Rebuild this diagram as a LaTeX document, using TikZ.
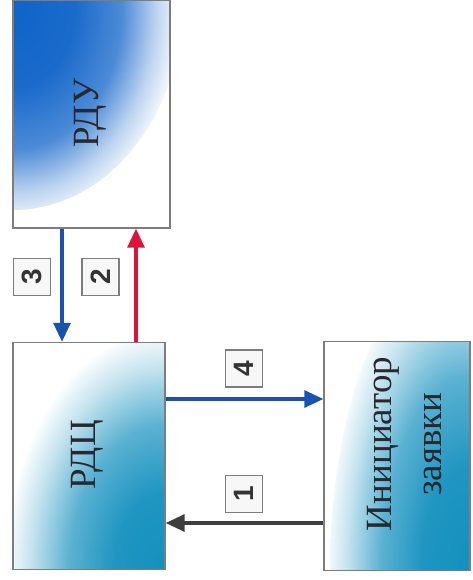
\documentclass[tikz,border=0pt]{standalone}
\usepackage{fontspec}
\setmainfont{Liberation Serif}
\newfontfamily\numfont{Liberation Sans}
\usetikzlibrary{arrows.meta}

\definecolor{rdublue}{RGB}{16,100,200}
\definecolor{rdcteal}{RGB}{20,144,190}
\definecolor{frame}{RGB}{125,125,125}
\definecolor{arrblue}{RGB}{24,84,172}
\definecolor{arrred}{RGB}{222,18,58}
\definecolor{arrgray}{RGB}{62,62,62}
\definecolor{txt}{RGB}{40,40,48}

% soft colour fields fading into white (25bp = edge of the shaded path)
\pgfdeclareradialshading{rdufade}{\pgfpoint{0bp}{0bp}}{%
  color(0bp)=(rdublue); color(9bp)=(rdublue!96!white);
  color(16bp)=(rdublue!75!white); color(21bp)=(rdublue!28!white);
  color(25bp)=(white); color(50bp)=(white)}
\pgfdeclareradialshading{tealfade}{\pgfpoint{0bp}{0bp}}{%
  color(0bp)=(rdcteal); color(8bp)=(rdcteal!95!white);
  color(15bp)=(rdcteal!70!white); color(21bp)=(rdcteal!25!white);
  color(25bp)=(white); color(50bp)=(white)}

\tikzset{
  unitbox/.style={draw=frame, line width=1.4pt, fill=white, inner sep=0pt},
  unittext/.style={rotate=90, inner sep=0pt, align=center,
    font=\fontsize{37}{50}\selectfont, text=txt},
  numbox/.style={draw=frame, line width=1.1pt, fill=black!3, inner sep=0pt,
    minimum size=37pt, font=\numfont\bfseries\fontsize{28}{28}\selectfont, text=black!80},
  flow/.style={line width=3.2pt, -{Triangle[length=19pt,width=17pt]}},
}

\begin{document}
\begin{tikzpicture}[x=1pt,y=-1pt]
\useasboundingbox (0,0) rectangle (473,580);

% main units
\node[unitbox, minimum width=157pt, minimum height=228pt,
  path picture={\shade[shading=rdufade] (path picture bounding box.north west)
    ellipse (170pt and 210pt);}]
  (rdu) at (91.5,114) {};
\node[unittext] (rdutxt) at (90,113) {РДУ};

\node[unitbox, minimum width=152pt, minimum height=227pt,
  path picture={\shade[shading=tealfade] (path picture bounding box.south east)
    ellipse (160pt and 240pt);}]
  (rdc) at (89,456) {};
\node[unittext] (rdctxt) at (87,455) {РДЦ};

\node[unitbox, minimum width=146pt, minimum height=229pt,
  path picture={\shade[shading=tealfade] (path picture bounding box.south east)
    ellipse (140pt and 320pt);}]
  (ini) at (397,456) {};
\node[unittext] (initxt) at (405,444) {Инициатор\\заявки};

% connector tracks
\coordinate (c3) at (62,0);
\coordinate (c2) at (136,0);
\coordinate (c4) at (0,399);
\coordinate (c1) at (0,523);

\draw[flow, arrblue] (rdu.south -| c3) -- (rdc.north -| c3);
\draw[flow, arrred] (rdc.north -| c2) -- (rdu.south -| c2);
\draw[flow, arrblue] (rdc.east |- c4) -- (ini.west |- c4);
\draw[flow, arrgray] (ini.west |- c1) -- (rdc.east |- c1);

% step numbers
\node[numbox] (n3) at (32,277) {\rotatebox{90}{3}};
\node[numbox] (n2) at (100.5,277) {\rotatebox{90}{2}};
\node[numbox] (n4) at (244,368.5) {\rotatebox{90}{4}};
\node[numbox] (n1) at (244,494) {\rotatebox{90}{1}};
\end{tikzpicture}
\end{document}
